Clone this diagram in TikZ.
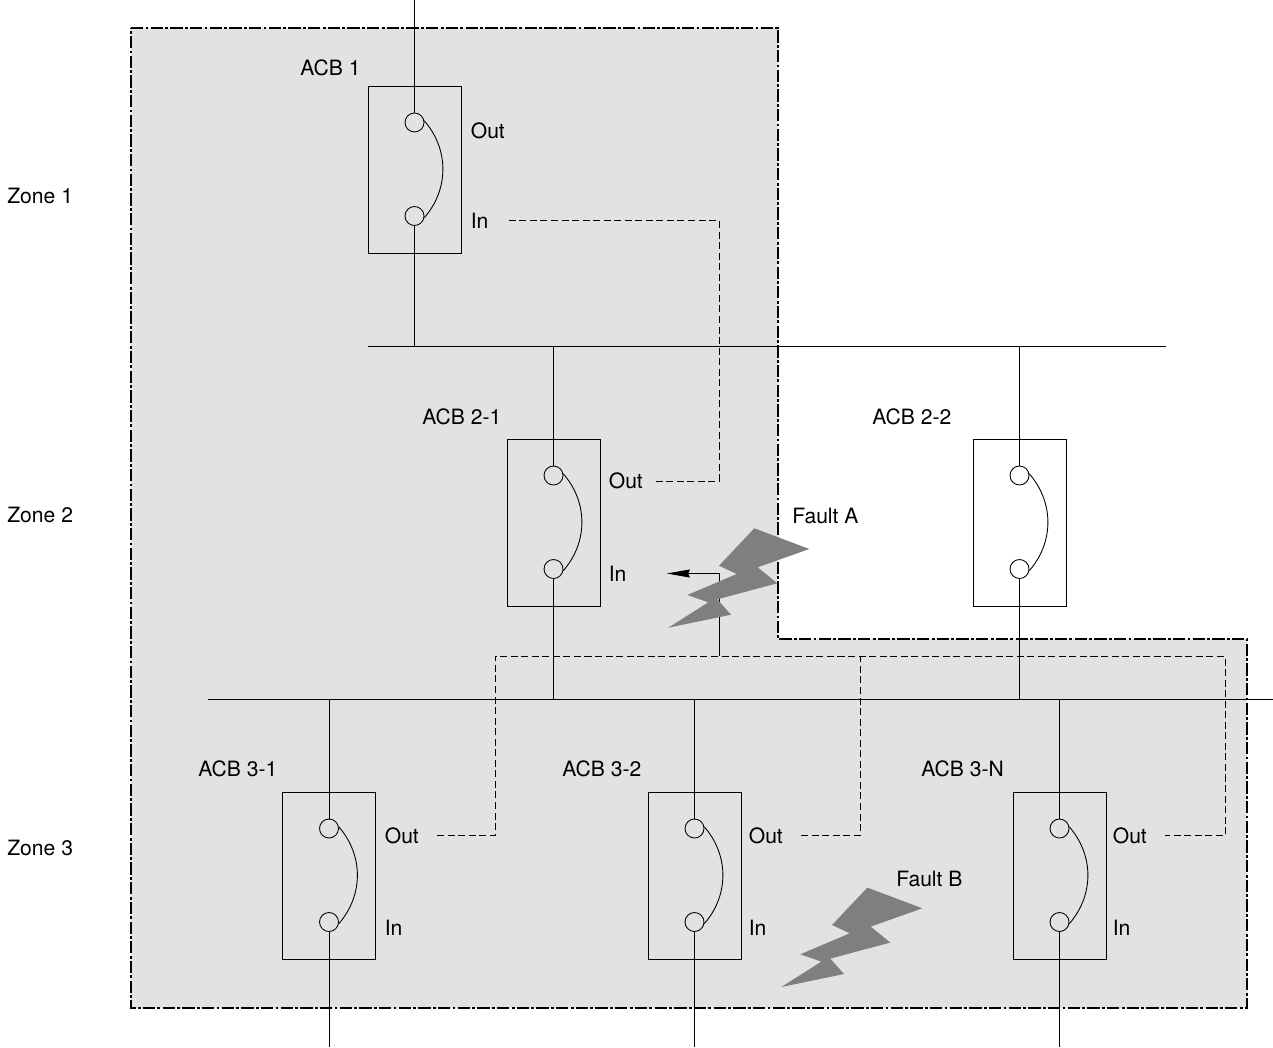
\documentclass[tikz,border=0pt]{standalone}
\usepackage{fontspec}
\setmainfont{TeX Gyre Heros}
\usepackage{xcolor}
\usetikzlibrary{arrows.meta, positioning}
\definecolor{zonefill}{HTML}{E2E2E2}
\definecolor{boltfill}{HTML}{7F7F7F}
\tikzset{
  wire/.style={line width=0.5pt},
  sigline/.style={line width=0.5pt,dash pattern=on 4pt off 2pt},
  zoneline/.style={line width=0.7pt,dash pattern=on 7pt off 1.3pt on 1.6pt off 1.3pt},
  acbbox/.style={draw,wire,minimum width=1.86cm,minimum height=3.34cm,inner sep=0pt},
  contact/.style={draw,wire,circle,minimum size=0.38cm,inner sep=0pt},
  lbl/.style={anchor=west,inner sep=0pt,font=\fontsize{12}{14}\selectfont},
}
% one breaker: name, centre x, top y
\newcommand{\acb}[3]{
  \node[acbbox] (#1) at (#2,#3+83.5) {};
  \node[contact] (#1-out) at (#2,#3+36.5) {};
  \node[contact] (#1-in) at (#2,#3+130) {};
  \draw[wire] (#1-out.10) to[bend left=41] (#1-in.-10);
}
% its two port labels: name, x, y of Out, y of In
\newcommand{\acbports}[4]{
  \node[lbl] (#1-outlbl) at (#2,#3) {Out};
  \node[lbl] (#1-inlbl) at (#2,#4) {In};
}
% one lightning bolt: shift in x, shift in y
\newcommand{\bolt}[2]{
  \fill[boltfill,shift={(#1,#2)}] (754.3,528.3)--(809.3,549)--(757.7,567.3)--(777.3,583.3)
    --(717.3,599.3)--(731,614.7)--(668.3,627.7)--(708.3,602.3)--(687.3,595)--(736.7,574)--(719,565.7)--cycle;
}
\begin{document}
\begin{tikzpicture}[x=0.02cm,y=-0.02cm]
  \useasboundingbox (0,0) rectangle (1273,1047);
  %protected zone
  \draw[zoneline,fill=zonefill](131,28)--(778,28)--(778,639)--(1247,639)--(1247,1008)--(131,1008)--cycle;
  %breakers
  \acb{acba}{414.5}{86}
  \acb{acbb}{553.5}{439}
  \acb{acbc}{1019.5}{439}
  \acb{acbd}{329}{792}
  \acb{acbe}{694.5}{792}
  \acb{acbf}{1059.5}{792}
  \acbports{acba}{470.5}{130.5}{220.5}
  \acbports{acbb}{608.5}{481}{573.5}
  \acbports{acbd}{384.5}{835.5}{927.5}
  \acbports{acbe}{748.5}{835.5}{927.5}
  \acbports{acbf}{1112.5}{835.5}{927.5}
  %buses
  \coordinate (busa1) at (368,346);
  \coordinate (busa2) at (1166,346);
  \coordinate (busb1) at (208,699);
  \coordinate (busb2) at (1273,699);
  \draw[wire](busa1)--(busa2);
  \draw[wire](busb1)--(busb2);
  %feeders
  \coordinate (feed) at (414.5,0);
  \draw[wire](feed)--(acba-out);
  \draw[wire](acba-in)--(acba-in|-busa1);
  \foreach \n in {acbb,acbc}{
    \draw[wire](\n-out)--(\n-out|-busa1);
    \draw[wire](\n-in)--(\n-in|-busb1);
  }
  \coordinate (bottom) at (0,1047);
  \foreach \n in {acbd,acbe,acbf}{
    \draw[wire](\n-out)--(\n-out|-busb1);
    \draw[wire](\n-in)--(\n-in|-bottom);
  }
  %restraint signals
  \coordinate (siga) at (719,481);
  \coordinate (sigb) at (495,656);
  \coordinate (sigc) at (1225,656);
  \coordinate (sigd) at (860,656);
  \coordinate (tap) at (719,656);
  \draw[sigline]([xshift=0.4cm]acba-inlbl.east)-|(siga)--([xshift=0.2cm]acbb-outlbl.east);
  \draw[sigline]([xshift=0.36cm]acbd-outlbl.east)-|(sigb)--(sigc)|-([xshift=0.36cm]acbf-outlbl.east);
  \draw[sigline]([xshift=0.36cm]acbe-outlbl.east)-|(sigd);
  \draw[wire,-{Stealth[length=4.6mm,width=1.6mm,inset=0.3mm]}](tap)|-([xshift=0.8cm]acbb-inlbl.east);
  %faults
  \bolt{0}{0}
  \bolt{113}{359.3}
  %labels
  \node[lbl] (acbalbl) at (300,67.5) {ACB 1};
  \node[lbl] (acbblbl) at (422,416.5) {ACB 2-1};
  \node[lbl] (acbclbl) at (872,416.5) {ACB 2-2};
  \node[lbl] (acbdlbl) at (198,768.5) {ACB 3-1};
  \node[lbl] (acbelbl) at (562,768.5) {ACB 3-2};
  \node[lbl] (acbflbl) at (921,768.5) {ACB 3-N};
  \node[lbl] (faulta) at (792,515.5) {Fault A};
  \node[lbl] (faultb) at (896,878.5) {Fault B};
  \node[lbl] (zonea) at (7,195.5) {Zone 1};
  \node[lbl] (zoneb) at (7,514.5) {Zone 2};
  \node[lbl] (zonec) at (7,847.5) {Zone 3};
\end{tikzpicture}
\end{document}
